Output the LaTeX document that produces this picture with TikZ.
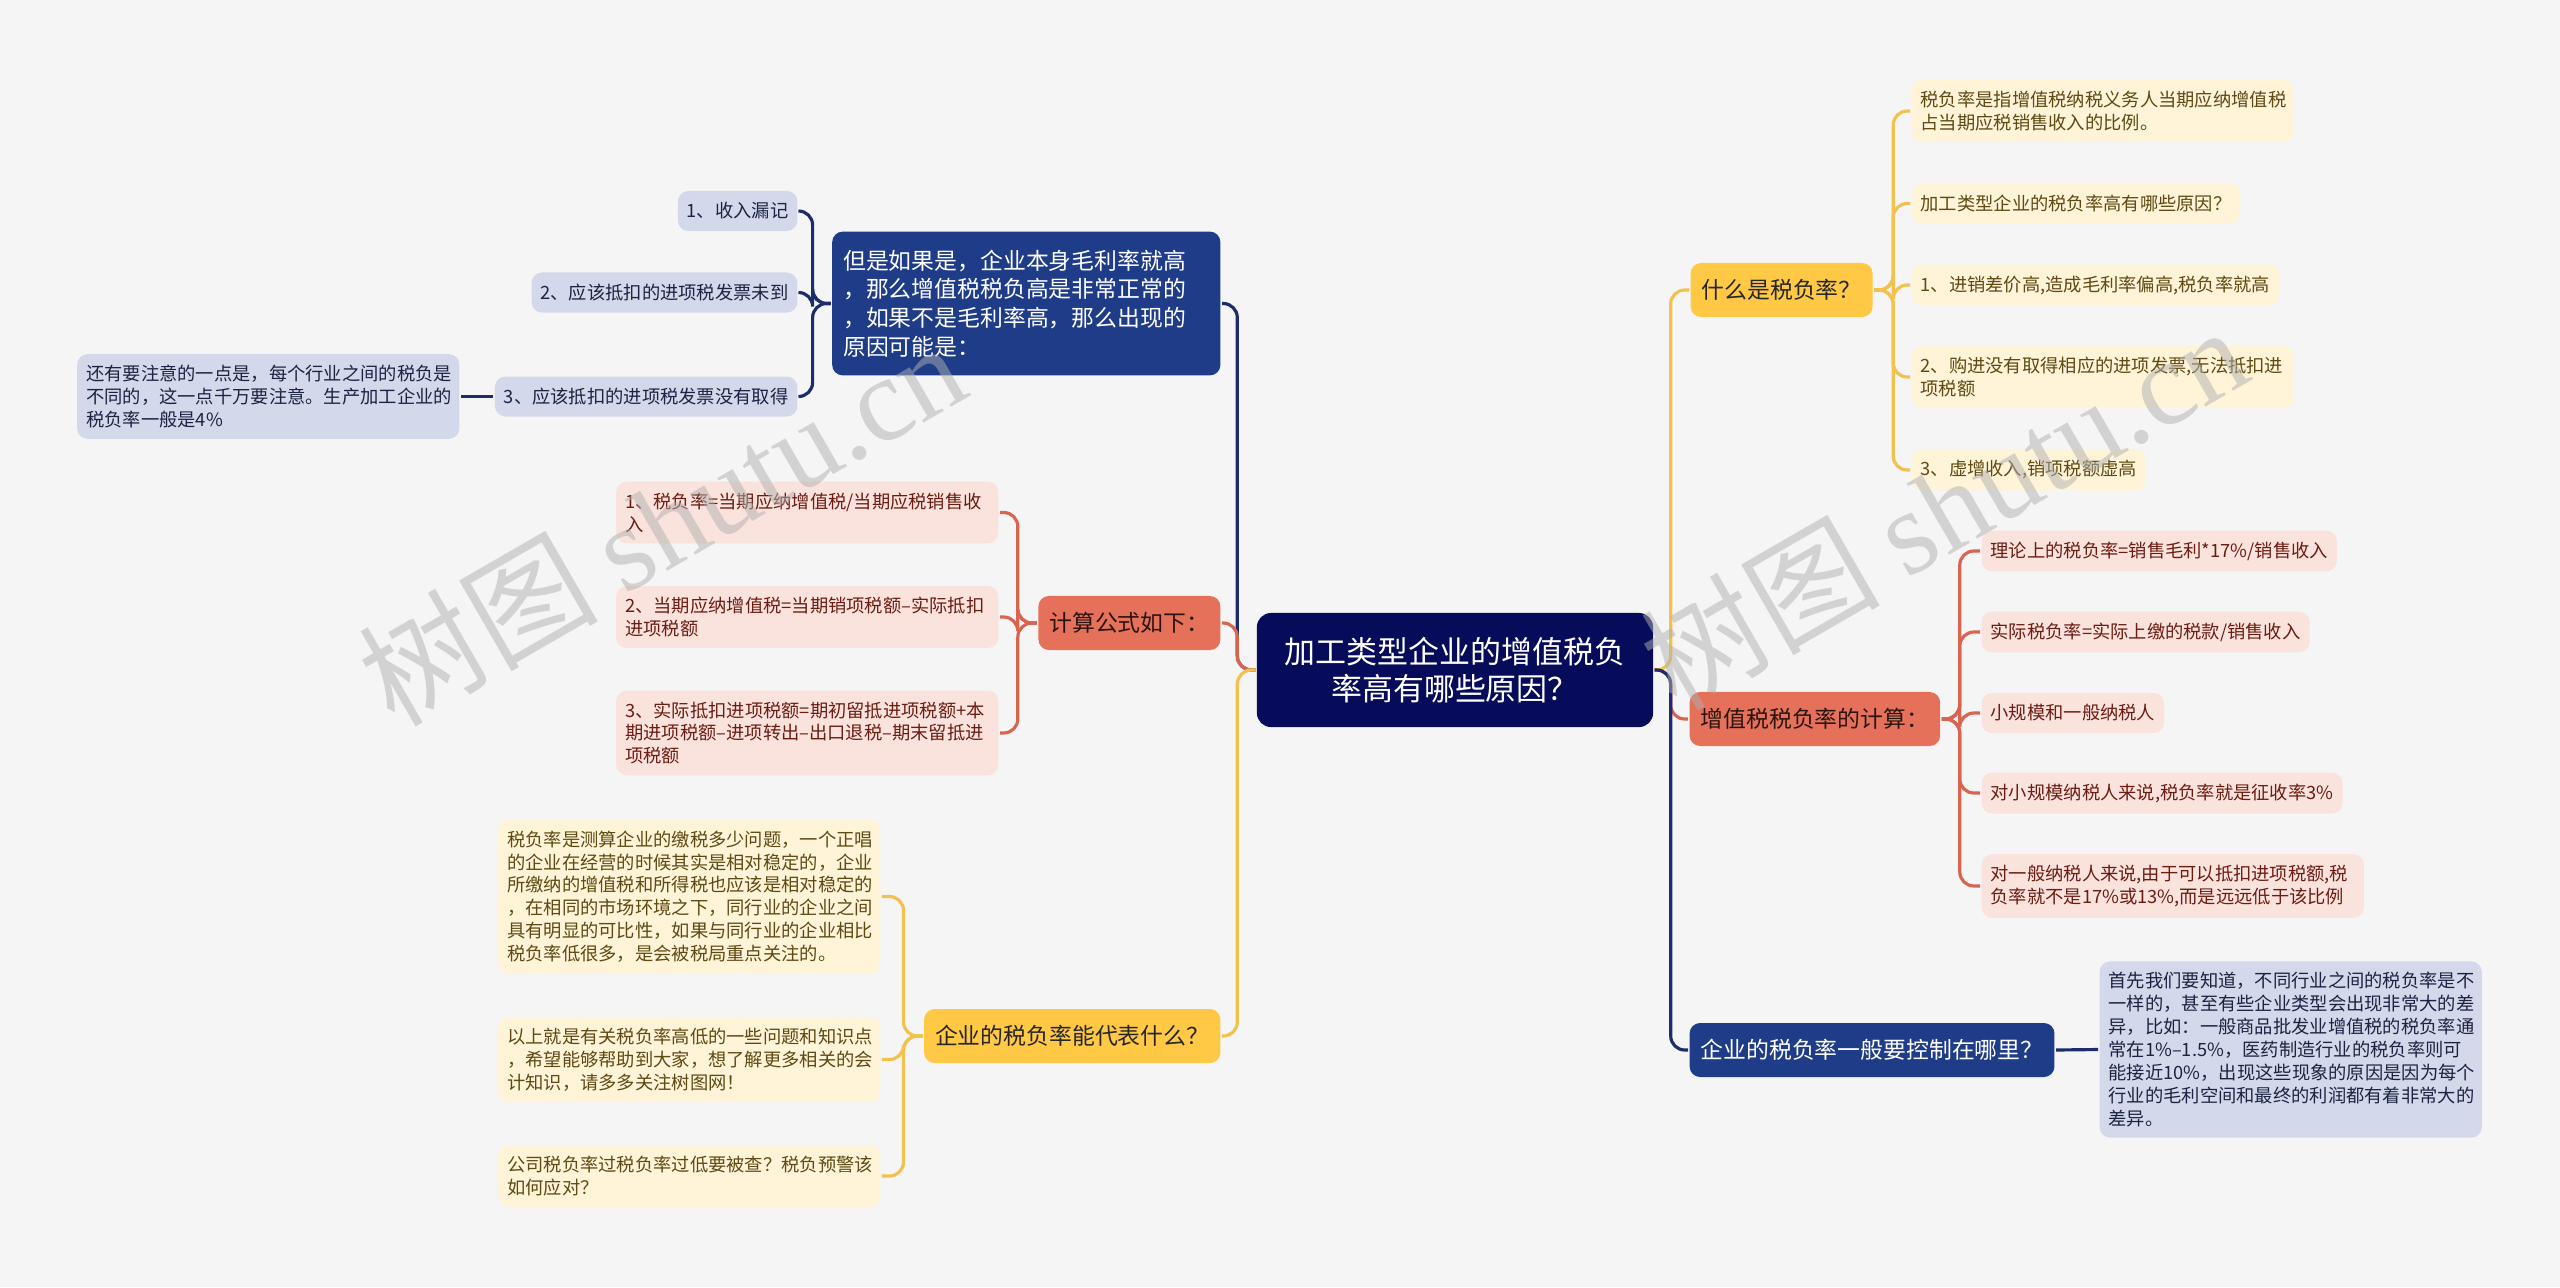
\documentclass[tikz,border=0pt]{standalone}
\usepackage{fontspec}
\setmainfont{Noto Sans CJK SC}
\newfontfamily\markfont{Liberation Serif}
\usetikzlibrary{positioning, calc}
\definecolor{cbg}{HTML}{F5F5F5}
\definecolor{croot}{HTML}{070C5A}
\definecolor{cnavy}{HTML}{1F3C88}
\definecolor{cnavyline}{HTML}{1B2D6B}
\definecolor{cyellow}{HTML}{FFC845}
\definecolor{cyellowline}{HTML}{F2C14E}
\definecolor{cyellowleaf}{HTML}{FFF3D8}
\definecolor{cyellowtext}{HTML}{5E4A12}
\definecolor{cred}{HTML}{E5715A}
\definecolor{credline}{HTML}{D96550}
\definecolor{credleaf}{HTML}{FBE3DD}
\definecolor{credtext}{HTML}{6B1D12}
\definecolor{credtopic}{HTML}{2B1410}
\definecolor{cblueleaf}{HTML}{D3D9EA}
\definecolor{cbluetext}{HTML}{1C2342}
\definecolor{cmark}{HTML}{B0B0B0}
\tikzset{
  every picture/.style={line width=0.9pt},
  root/.style={fill=croot, text=white, rounded corners=4pt, align=center, minimum width=3.96cm, minimum height=1.14cm, font=\fontsize{8.8}{10.6}\selectfont},
  topic/.style={fill=#1, rounded corners=3pt, align=left, inner xsep=0.11cm, inner ysep=0.14cm, minimum height=0.54cm, font=\fontsize{6.5}{8.2}\selectfont},
  leaf/.style={fill=#1, rounded corners=3pt, align=left, inner xsep=0.09cm, inner ysep=0.11cm, minimum height=0.40cm, font=\fontsize{5.2}{6.5}\selectfont},
  yleaf/.style={leaf=cyellowleaf, text=cyellowtext},
  rleaf/.style={leaf=credleaf, text=credtext},
  bleaf/.style={leaf=cblueleaf, text=cbluetext},
  wide/.style={text width=3.64cm},
  link/.style={draw=#1, rounded corners=4pt},
  wmark/.style={text=cmark, text opacity=0.5, font=\fontsize{34}{40}\selectfont},
}
\begin{document}
\begin{tikzpicture}[x=0.01cm, y=-0.01cm]
  \fill[cbg] (0,0) rectangle (2560,1287);
  % root
  \node[root] (root) at (1455,670) {加工类型企业的增值税负\\率高有哪些原因？};
  % what is the tax rate
  \node[topic=cyellow, text=black!85, anchor=west] (what) at (1689,290) {什么是税负率？};
  \node[yleaf, wide, anchor=west] (what1) at (1910,111) {税负率是指增值税纳税义务人当期应纳增值税\\占当期应税销售收入的比例。};
  \node[yleaf, anchor=west] (what2) at (1910,203.5) {加工类型企业的税负率高有哪些原因？};
  \node[yleaf, anchor=west] (what3) at (1910,285) {1、进销差价高,造成毛利率偏高,税负率就高};
  \node[yleaf, wide, anchor=west] (what4) at (1910,377) {2、购进没有取得相应的进项发票,无法抵扣进\\项税额};
  \node[yleaf, anchor=west] (what5) at (1910,470) {3、虚增收入,销项税额虚高};
  \foreach \i in {1,...,5} \draw[link=cyellowline] (what.east) -- ++(19,0) |- (what\i.west);
  % vat rate calculation
  \node[topic=cred, text=credtopic, anchor=west] (vat) at (1688,719) {增值税税负率的计算：};
  \node[rleaf, anchor=west] (vat1) at (1980,551) {理论上的税负率=销售毛利*17\%/销售收入};
  \node[rleaf, anchor=west] (vat2) at (1980,632) {实际税负率=实际上缴的税款/销售收入};
  \node[rleaf, anchor=west] (vat3) at (1980,713) {小规模和一般纳税人};
  \node[rleaf, anchor=west] (vat4) at (1980,793) {对小规模纳税人来说,税负率就是征收率3\%};
  \node[rleaf, wide, anchor=west] (vat5) at (1980,886) {对一般纳税人来说,由于可以抵扣进项税额,税\\负率就不是17\%或13\%,而是远远低于该比例};
  \foreach \i in {1,...,5} \draw[link=credline] (vat.east) -- ++(18,0) |- (vat\i.west);
  % where to keep it
  \node[topic=cnavy, text=white, anchor=west] (ctrl) at (1688,1050) {企业的税负率一般要控制在哪里？};
  \node[bleaf, wide, anchor=west] (ctrl1) at (2098,1049.5) {首先我们要知道，不同行业之间的税负率是不\\一样的，甚至有些企业类型会出现非常大的差\\异，比如：一般商品批发业增值税的税负率通\\常在1\%–1.5\%，医药制造行业的税负率则可\\能接近10\%，出现这些现象的原因是因为每个\\行业的毛利空间和最终的利润都有着非常大的\\差异。};
  \draw[link=cnavyline] (ctrl.east) -- (ctrl1.west);
  % possible causes
  \node[topic=cnavy, text=white, text width=3.66cm, inner ysep=0.18cm, anchor=east] (but) at (1222,303.5) {但是如果是，企业本身毛利率就高\\，那么增值税税负高是非常正常的\\，如果不是毛利率高，那么出现的\\原因可能是：};
  \node[bleaf, anchor=east] (but1) at (799,211) {1、收入漏记};
  \node[bleaf, anchor=east] (but2) at (799,292.5) {2、应该抵扣的进项税发票未到};
  \node[bleaf, anchor=east] (but3) at (799,396.5) {3、应该抵扣的进项税发票没有取得};
  \node[bleaf, wide, anchor=east] (note) at (461,396.5) {还有要注意的一点是，每个行业之间的税负是\\不同的，这一点千万要注意。生产加工企业的\\税负率一般是4\%};
  \foreach \i in {1,2,3} \draw[link=cnavyline] (but.west) -- ++(-18,0) |- (but\i.east);
  \draw[link=cnavyline] (but3.west) -- (note.east);
  % formulas
  \node[topic=cred, text=credtopic, anchor=east] (formula) at (1222,623) {计算公式如下：};
  \node[rleaf, wide, anchor=east] (formula1) at (1000,512.5) {1、税负率=当期应纳增值税/当期应税销售收\\入};
  \node[rleaf, wide, anchor=east] (formula2) at (1000,617) {2、当期应纳增值税=当期销项税额–实际抵扣\\进项税额};
  \node[rleaf, wide, anchor=east] (formula3) at (1000,733) {3、实际抵扣进项税额=期初留抵进项税额+本\\期进项税额–进项转出–出口退税–期末留抵进\\项税额};
  \foreach \i in {1,2,3} \draw[link=credline] (formula.west) -- ++(-19,0) |- (formula\i.east);
  % what it stands for
  \node[topic=cyellow, text=black!85, anchor=east] (repr) at (1222,1036) {企业的税负率能代表什么？};
  \node[yleaf, wide, anchor=east] (repr1) at (882,896.5) {税负率是测算企业的缴税多少问题，一个正唱\\的企业在经营的时候其实是相对稳定的，企业\\所缴纳的增值税和所得税也应该是相对稳定的\\，在相同的市场环境之下，同行业的企业之间\\具有明显的可比性，如果与同行业的企业相比\\税负率低很多，是会被税局重点关注的。};
  \node[yleaf, wide, anchor=east] (repr2) at (882,1059.5) {以上就是有关税负率高低的一些问题和知识点\\，希望能够帮助到大家，想了解更多相关的会\\计知识，请多多关注树图网！};
  \node[yleaf, wide, anchor=east] (repr3) at (882,1176) {公司税负率过税负率过低要被查？税负预警该\\如何应对？};
  \foreach \i in {1,2,3} \draw[link=cyellowline] (repr.west) -- ++(-19,0) |- (repr\i.east);
  % trunks
  \draw[link=cyellowline] (root.east) -- ++(16,0) |- (what.west);
  \draw[link=credline] (root.east) -- ++(16,0) |- (vat.west);
  \draw[link=cnavyline] (root.east) -- ++(16,0) |- (ctrl.west);
  \draw[link=cnavyline] (root.west) -- ++(-18,0) |- (but.east);
  \draw[link=credline] (root.west) -- ++(-18,0) |- (formula.east);
  \draw[link=cyellowline] (root.west) -- ++(-18,0) |- (repr.east);
  % watermarks
  \node[wmark, rotate=30] (mark1) at (661,522) {树图 {\markfont shutu.cn}};
  \node[wmark, rotate=30] (mark2) at (1943,506) {树图 {\markfont shutu.cn}};
\end{tikzpicture}
\end{document}
